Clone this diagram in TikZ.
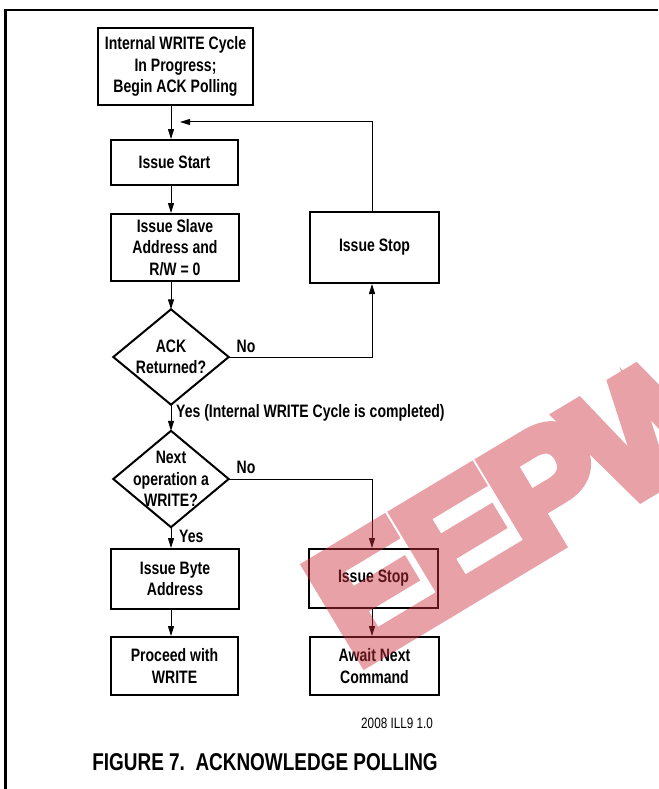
\documentclass[tikz,border=0pt]{standalone}
\usepackage{fontspec}
\setmainfont{Liberation Sans}[FakeStretch=0.78]
\newfontfamily\wmfont{Liberation Sans Bold}[FakeBold=7]
\usetikzlibrary{arrows.meta,calc}
\definecolor{wm}{RGB}{204,48,60}
\begin{document}
\begin{tikzpicture}[x=1pt,y=-1pt,
  txt/.style={font=\bfseries\fontsize{18}{21.5}\selectfont},
  box/.style={txt, draw, line width=2pt, inner sep=0pt, align=center},
  dia/.style={txt, inner sep=0pt, align=center, minimum width=115pt, minimum height=95pt},
  lbl/.style={txt, inner sep=0pt},
  conn/.style={line width=1pt, -{Triangle[width=6pt,length=10pt]}}]
\useasboundingbox (0,0) rectangle (658,789);
\fill[white] (0,0) rectangle (658,789);
% frame
\draw[line width=2.5pt] (5.5,789) -- (5.5,10) -- (658,10);
% nodes
\node[box, minimum width=155pt, minimum height=77pt] (b1) at (175.5,66.5) {Internal WRITE Cycle\\In Progress;\\Begin ACK Polling};
\node[box, minimum width=127pt, minimum height=45pt] (start) at (174.5,162.5) {Issue Start};
\node[box, minimum width=128pt, minimum height=67pt] (slave) at (175,247.5) {Issue Slave\\Address and\\R/W = 0};
\node[box, minimum width=129pt, minimum height=71pt] (stop1) at (374.5,247.5) {Issue Stop};
\node[dia] (ack) at (171,357) {ACK\\Returned?};
\draw[line width=2pt] (ack.north) -- (ack.east) -- (ack.south) -- (ack.west) -- cycle;
\node[dia, minimum height=96pt] (next) at (171,479) {Next\\operation a\\WRITE?};
\draw[line width=2pt] (next.north) -- (next.east) -- (next.south) -- (next.west) -- cycle;
\node[box, minimum width=128pt, minimum height=60pt] (byte) at (175,579) {Issue Byte\\Address};
\node[box, minimum width=129pt, minimum height=59pt] (stop2) at (373.5,578.5) {Issue Stop};
\node[box, minimum width=127pt, minimum height=58pt] (proceed) at (174.5,666) {Proceed with\\WRITE};
\node[box, minimum width=129pt, minimum height=58pt] (await) at (374.5,666) {Await Next\\Command};
% labels
\node[lbl] (no1) at (246,346) {No};
\node[lbl] (no2) at (246,467) {No};
\node[lbl, anchor=west] (yes1) at (176,413) {Yes (Internal WRITE Cycle is completed)};
\node[lbl, anchor=west] (yes2) at (179,536) {Yes};
% connectors
\coordinate (sp) at (171,0);
\coordinate (rs) at (372,0);
\coordinate (loopend) at (180,122);
\draw[conn] (b1.south -| sp) -- (start.north -| sp);
\draw[conn] (start.south -| sp) -- (slave.north -| sp);
\draw[conn] (slave.south -| sp) -- (ack.north);
\draw[conn] (ack.south) -- (next.north);
\draw[conn] (next.south) -- (byte.north -| sp);
\draw[conn] (byte.south -| sp) -- (proceed.north -| sp);
\draw[conn] (ack.east) -| (stop1.south -| rs);
\draw[conn] (stop1.north -| rs) |- (loopend);
\draw[conn] (next.east) -| (stop2.north -| rs);
\draw[conn] (stop2.south -| rs) -- (await.north -| rs);
% footer
\node[anchor=east, inner sep=0pt, font=\fontsize{15}{18}\selectfont] (ill) at (433,723) {2008 ILL9 1.0};
\node[inner sep=0pt, font=\bfseries\fontsize{24.3}{28}\selectfont] (title) at (265,762) {FIGURE 7.\ \ ACKNOWLEDGE POLLING};
% watermark
\begin{scope}[transparency group, opacity=0.45]
\node[anchor=base west, inner sep=0pt, rotate=31, text=wm,
  font=\wmfont\fontsize{163}{163}\selectfont] (wmark) at (356,668) {E\kern-7pt E\kern-7pt P\kern-9pt W};
\end{scope}
\end{tikzpicture}
\end{document}
